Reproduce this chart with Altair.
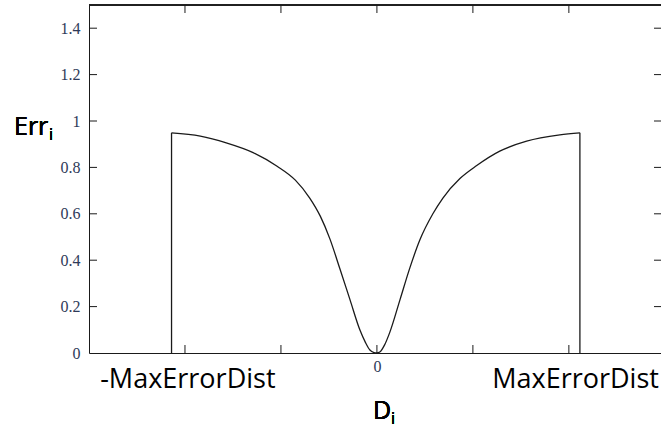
import altair as alt
import pandas as pd

# Error curve Err_i versus signed distance D_i (x in tick units, 0 at the centre)
curve_x = [-2.14, -1.84, -1.57, -1.29, -1.04, -0.85, -0.70, -0.59, -0.49, -0.385,
           -0.28, -0.177, -0.12, -0.073, -0.03, 0.0, 0.03, 0.08, 0.135, 0.24,
           0.344, 0.448, 0.583, 0.6875, 0.865, 1.04, 1.28, 1.56, 1.906, 2.115]
curve_y = [0.949, 0.935, 0.906, 0.864, 0.805, 0.745, 0.668, 0.590, 0.492, 0.362,
           0.229, 0.099, 0.046, 0.013, 0.002, 0.0, 0.004, 0.035, 0.090, 0.229,
           0.368, 0.488, 0.600, 0.668, 0.752, 0.808, 0.870, 0.913, 0.940, 0.949]

# Cut-off edges at -MaxErrorDist and +MaxErrorDist
edge_x = [-2.14, 2.115]
edge_y = [0.949, 0.949]

x_ticks = [-2, -1, 0, 1, 2]
y_ticks = [0.2, 0.4, 0.6, 0.8, 1.0, 1.2, 1.4]
y_axis_values = [0, 0.2, 0.4, 0.6, 0.8, 1.0, 1.2, 1.4]
bound_labels = ["-MaxErrorDist", "MaxErrorDist"]
bound_label_x = [-1.97, 2.07]

W, H = 572, 348
X_DOMAIN = [-3, 2.96]
Y_DOMAIN = [0, 1.5]
INK = "#1a1a1a"
SERIF = "Liberation Serif"
SANS = "Open Sans"

curve = pd.DataFrame({"d": curve_x, "err": curve_y})
edges = pd.DataFrame({"d": edge_x, "err": edge_y, "base": [0, 0]})
xt = pd.DataFrame({"d": x_ticks})
yt = pd.DataFrame({"err": y_ticks})
bl = pd.DataFrame({"d": bound_label_x, "label": bound_labels})

xs = alt.Scale(domain=X_DOMAIN, nice=False, zero=False)
ys = alt.Scale(domain=Y_DOMAIN, nice=False, zero=False)

x_axis = alt.Axis(values=[0], ticks=False, grid=False, title=None, domainColor=INK,
                  labelFont=SERIF, labelFontSize=16, labelColor="#2e3a58",
                  labelPadding=5)
y_axis = alt.Axis(values=y_axis_values, ticks=False, grid=False, title=None,
                  domainColor=INK, labelFont=SERIF, labelFontSize=16,
                  labelColor="#2e3a58", labelPadding=9, format="~g")

line = alt.Chart(curve).mark_line(
    color=INK, strokeWidth=1.3, interpolate="monotone"
).encode(
    x=alt.X("d:Q", scale=xs, axis=x_axis),
    y=alt.Y("err:Q", scale=ys, axis=y_axis),
)

edge_rules = alt.Chart(edges).mark_rule(color=INK, strokeWidth=1.3).encode(
    x=alt.X("d:Q", scale=xs, axis=x_axis),
    y=alt.Y("base:Q", scale=ys, axis=y_axis),
    y2="err:Q",
)

left_ticks = alt.Chart(yt).mark_rule(color=INK).encode(
    y=alt.Y("err:Q", scale=ys, axis=y_axis), x=alt.value(0), x2=alt.value(8))
right_ticks = alt.Chart(yt).mark_rule(color=INK).encode(
    y=alt.Y("err:Q", scale=ys, axis=y_axis), x=alt.value(W - 7), x2=alt.value(W))
bottom_ticks = alt.Chart(xt).mark_rule(color=INK).encode(
    x=alt.X("d:Q", scale=xs, axis=x_axis), y=alt.value(H - 8), y2=alt.value(H))
top_ticks = alt.Chart(xt).mark_rule(color=INK).encode(
    x=alt.X("d:Q", scale=xs, axis=x_axis), y=alt.value(0), y2=alt.value(8))
top_border = alt.Chart(xt).mark_rule(color=INK).encode(
    x=alt.value(0), x2=alt.value(W), y=alt.value(0))

bounds = alt.Chart(bl).mark_text(
    font=SANS, fontSize=27, color="black", align="center", baseline="alphabetic"
).encode(x=alt.X("d:Q", scale=xs, axis=x_axis), y=alt.value(383), text="label:N")

def label(txt, x, y, size, align="left"):
    return alt.Chart(xt).mark_text(
        text=txt, font=SANS, fontSize=size, color="black",
        align=align, baseline="alphabetic"
    ).encode(x=alt.value(x), y=alt.value(y))

err_main = label("Err", -75, 130, 25)
err_sub = label("i", -40, 135, 16)
d_main = label("D", 284, 414, 25)
d_sub = label("i", 302, 419, 16)

chart = alt.layer(
    line, edge_rules, left_ticks, right_ticks, bottom_ticks, top_ticks, top_border,
    bounds, err_main, err_sub, d_main, d_sub
).properties(
    width=W, height=H,
    autosize=alt.AutoSizeParams(type="none"),
    padding={"left": 89, "top": 5, "right": 0, "bottom": 76},
).configure_view(stroke=None).configure(background="white")

chart.save("out.html", embed_options={"renderer": "svg", "actions": False})
